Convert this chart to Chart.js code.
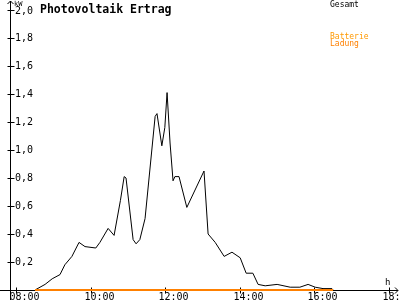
<!DOCTYPE html>
<html>
<head>
<meta charset="utf-8">
<script src="https://cdn.jsdelivr.net/npm/chart.js@4/dist/chart.umd.min.js"></script>
<style>
  body { margin: 0; background: #fff; }
  canvas { display: block; }
</style>
</head>
<body>
<canvas id="chart" width="400" height="300"></canvas>
<script>
// time in decimal hours, power in kW
const hours = [8.51, 8.78, 8.97, 9.18, 9.31, 9.50, 9.69, 9.85, 10.14, 10.25, 10.47, 10.63,
  10.80, 10.90, 10.95, 11.14, 11.22, 11.32, 11.46, 11.73, 11.78, 11.91, 11.99, 12.05, 12.13,
  12.21, 12.26, 12.37, 12.58, 13.04, 13.15, 13.34, 13.58, 13.79, 14.01, 14.17, 14.35, 14.49,
  14.68, 15.00, 15.35, 15.61, 15.83, 16.02, 16.23, 16.47, 16.50];
const gesamt = [0, 0.04, 0.08, 0.11, 0.18, 0.24, 0.34, 0.31, 0.30, 0.34, 0.44, 0.39,
  0.64, 0.81, 0.80, 0.36, 0.33, 0.36, 0.51, 1.24, 1.26, 1.03, 1.16, 1.41, 1.05,
  0.78, 0.81, 0.81, 0.59, 0.85, 0.40, 0.34, 0.24, 0.27, 0.23, 0.12, 0.12, 0.04,
  0.03, 0.04, 0.02, 0.02, 0.04, 0.02, 0.01, 0.01, 0];
const ladungHours = [8.51, 16.50];
const ladung = [0, 0];

const xTicks = [8, 10, 12, 14, 16, 18];
const xTickLabels = ["08:00", "10:00", "12:00", "14:00", "16:00", "18:00"];
const yTicks = [0.2, 0.4, 0.6, 0.8, 1.0, 1.2, 1.4, 1.6, 1.8, 2.0];
const yTickLabels = ["0,2", "0,4", "0,6", "0,8", "1,0", "1,2", "1,4", "1,6", "1,8", "2,0"];

const ctx = document.getElementById("chart").getContext("2d");

// axes, ticks and texts in the old applet style
const axesPlugin = {
  id: "axes",
  beforeDatasetsDraw(chart) {
    const c = chart.ctx;
    const xs = chart.scales.x;
    const ys = chart.scales.y;
    const x0 = Math.round(xs.left) + 0.5;
    const y0 = Math.round(ys.getPixelForValue(0)) + 0.5;
    c.save();
    c.strokeStyle = "#000";
    c.lineWidth = 1;
    c.beginPath();
    // y axis with arrow
    c.moveTo(x0, 1); c.lineTo(x0, 300);
    c.moveTo(x0 - 3, 4); c.lineTo(x0, 1); c.lineTo(x0 + 3, 4);
    // x axis with arrow
    c.moveTo(0, y0); c.lineTo(398, y0);
    c.moveTo(395, y0 - 3); c.lineTo(398, y0); c.lineTo(395, y0 + 3);
    c.stroke();

    c.fillStyle = "#000";
    c.font = "10px 'DejaVu Sans Mono'";
    c.textBaseline = "middle";
    c.textAlign = "left";
    yTicks.forEach((v, i) => {
      const py = Math.round(ys.getPixelForValue(v)) + 0.5;
      c.beginPath();
      c.moveTo(x0 - 3, py); c.lineTo(x0 + 4, py);
      c.stroke();
      c.fillText(yTickLabels[i], 15, py + (i === yTicks.length - 1 ? 1 : 0));
    });
    c.textBaseline = "top";
    c.textAlign = "center";
    xTicks.forEach((v, i) => {
      const px = Math.round(xs.getPixelForValue(v)) + 0.5;
      c.beginPath();
      c.moveTo(px, y0 - 3); c.lineTo(px, y0 + 3);
      c.stroke();
      c.fillText(xTickLabels[i], px + 8, 292);
    });

    c.textAlign = "left";
    c.textBaseline = "alphabetic";
    c.font = "7px 'DejaVu Sans Mono'";
    c.fillText("kW", 14, 6);
    c.font = "9px 'DejaVu Sans Mono'";
    c.fillText("h", 385, 285);

    c.font = "bold 11.5px 'DejaVu Sans Mono'";
    c.fillText("Photovoltaik Ertrag", 40, 13);

    c.font = "8px 'DejaVu Sans Mono'";
    c.fillText("Gesamt", 330, 7);
    c.fillStyle = "#ff9900";
    c.fillText("Batterie", 330, 39);
    c.fillStyle = "#ff8000";
    c.fillText("Ladung", 330, 46);
    c.restore();
  }
};

new Chart(ctx, {
  type: "line",
  data: {
    datasets: [{
      label: "Batterie Ladung",
      data: ladungHours.map((h, i) => ({ x: h, y: ladung[i] })),
      borderColor: "#ff8000",
      borderWidth: 2,
      pointRadius: 0,
      tension: 0,
      clip: false
    }, {
      label: "Gesamt",
      data: hours.map((h, i) => ({ x: h, y: gesamt[i] })),
      borderColor: "#000",
      borderWidth: 1,
      pointRadius: 0,
      tension: 0,
      clip: false
    }]
  },
  options: {
    responsive: false,
    animation: false,
    layout: { padding: { left: 10, right: 2, top: 10, bottom: 10 } },
    plugins: { legend: { display: false }, tooltip: { enabled: false } },
    scales: {
      x: { type: "linear", min: 7.84, max: 18.24, display: false },
      y: { min: 0, max: 2.0, display: false }
    }
  },
  plugins: [axesPlugin]
});
</script>
</body>
</html>
